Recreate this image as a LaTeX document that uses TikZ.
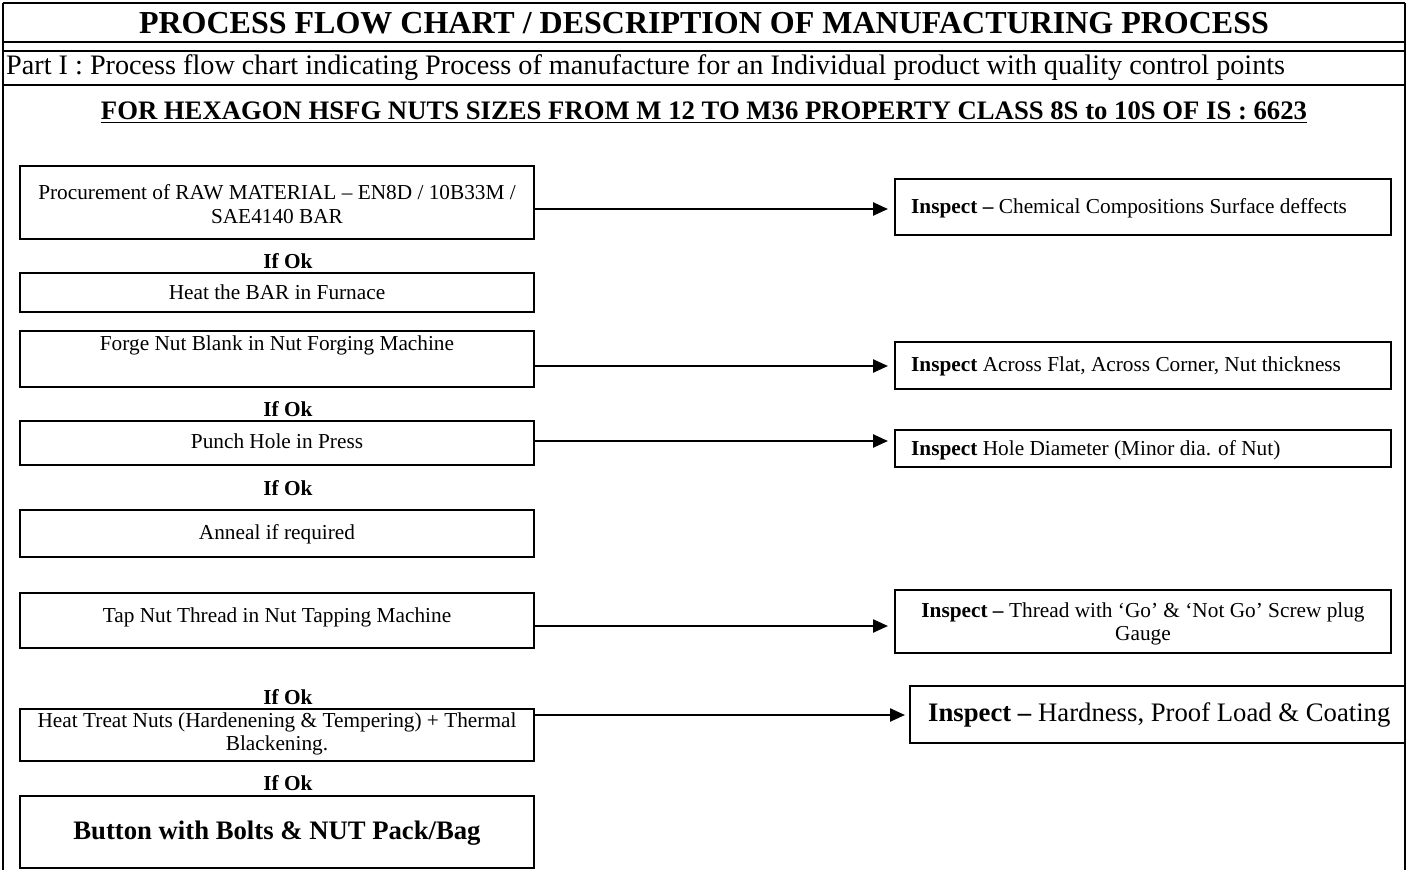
\documentclass[tikz,border=0pt]{standalone}
\usepackage{fontspec}
\setmainfont{Liberation Serif}
\usetikzlibrary{arrows.meta}
\newcommand\myfbody{\fontsize{21.3}{23.5}\selectfont}
\newcommand\myfbig{\fontsize{26.7}{30}\selectfont}
\newcommand\myftitle{\fontsize{32}{36}\selectfont}
\newcommand\myfsub{\fontsize{28.2}{32}\selectfont}
\begin{document}
\begin{tikzpicture}[x=1pt,y=-1pt,
  frame/.style={line width=2pt},
  box/.style={draw, line width=2pt, inner sep=0pt, outer sep=0pt, anchor=north west},
  txt/.style={inner sep=0pt, font=\myfbody, align=center},
  okl/.style={inner sep=0pt, font=\myfbody\bfseries},
  rtxt/.style={inner sep=0pt, font=\myfbody, anchor=west},
  arr/.style={line width=2.4pt, -{Triangle[length=15pt,width=13pt]}, shorten >=7pt},
]
\useasboundingbox (0,0) rectangle (1408,870);

% frame
\draw[frame] (3,3) -- (1405,3);
\draw[frame] (3,42) -- (1405,42);
\draw[frame] (3,51) -- (1405,51);
\draw[frame] (3,85) -- (1405,85);
\draw[frame] (3,3) -- (3,870);
\draw[frame] (1405,3) -- (1405,870);

% headings
\node[font=\myftitle\bfseries, inner sep=0pt] (title) at (704,23) {PROCESS FLOW CHART / DESCRIPTION OF MANUFACTURING PROCESS};
\node[font=\myfsub, inner sep=0pt, anchor=west] (sub) at (6,68) {Part I : Process flow chart indicating Process of manufacture for an Individual product with quality control points};
\node[font=\myfbig\bfseries, inner sep=0pt] (head) at (704,111) {FOR HEXAGON HSFG NUTS SIZES FROM M 12 TO M36 PROPERTY CLASS 8S to 10S OF IS : 6623};
\draw[line width=1.6pt] ([yshift=-3pt]head.base west) -- ([yshift=-3pt]head.base east);

% left boxes
\node[box, minimum width=514pt, minimum height=73pt] (p1) at (20,166) {};
\node[box, minimum width=514pt, minimum height=39pt] (p2) at (20,273) {};
\node[box, minimum width=514pt, minimum height=56pt] (p3) at (20,331) {};
\node[box, minimum width=514pt, minimum height=44pt] (p4) at (20,421) {};
\node[box, minimum width=514pt, minimum height=47pt] (p5) at (20,510) {};
\node[box, minimum width=514pt, minimum height=55pt] (p6) at (20,593) {};
\node[box, minimum width=514pt, minimum height=52pt] (p7) at (20,709) {};
\node[box, minimum width=514pt, minimum height=72pt] (p8) at (20,796) {};

\node[txt] (t1) at (277,204) {Procurement of RAW MATERIAL – EN8D / 10B33M /\\SAE4140 BAR};
\node[txt] (t2) at (277,292) {Heat the BAR in Furnace};
\node[txt] (t3) at (277,345) {Forge Nut Blank in Nut Forging Machine};
\node[txt] (t4) at (277,441) {Punch Hole in Press};
\node[txt] (t5) at (277,534) {Anneal if required};
\node[txt] (t6) at (277,617) {Tap Nut Thread in Nut Tapping Machine};
\node[txt] (t7) at (277,734) {Heat Treat Nuts (Hardenening \& Tempering) + Thermal\\Blackening.};
\node[inner sep=0pt, font=\myfbig\bfseries] (t8) at (277,833) {Button with Bolts \& NUT Pack/Bag};

\node[okl] (ok1) at (288,261) {If Ok};
\node[okl] (ok2) at (288,409) {If Ok};
\node[okl] (ok3) at (288,488) {If Ok};
\node[okl] (ok4) at (288,697) {If Ok};
\node[okl] (ok5) at (288,783) {If Ok};

% right boxes
\node[box, minimum width=496pt, minimum height=56pt] (i1) at (895,179) {};
\node[box, minimum width=496pt, minimum height=47pt] (i2) at (895,342) {};
\node[box, minimum width=496pt, minimum height=37pt] (i3) at (895,430) {};
\node[box, minimum width=496pt, minimum height=63pt] (i4) at (895,590) {};
\node[box, minimum width=495pt, minimum height=57pt] (i5) at (910,686) {};

\node[rtxt] (j1) at (911,208) {\textbf{Inspect –} Chemical Compositions Surface deffects};
\node[rtxt] (j2) at (911,366) {\textbf{Inspect} Across Flat, Across Corner, Nut thickness};
\node[rtxt] (j3) at (911,450) {\textbf{Inspect} Hole Diameter (Minor dia. of Nut)};
\node[txt] (j4) at (1143,624) {\textbf{Inspect –} Thread with ‘Go’ \& ‘Not Go’ Screw plug\\Gauge};
\node[inner sep=0pt, font=\myfbig, anchor=west] (j5) at (928,715) {\textbf{Inspect –} Hardness, Proof Load \& Coating};

% arrows
\draw[arr] (p1.east |- 0,209) -- (i1.west |- 0,209);
\draw[arr] (p3.east |- 0,366) -- (i2.west |- 0,366);
\draw[arr] (p4.east |- 0,441) -- (i3.west |- 0,441);
\draw[arr] (p6.east |- 0,626) -- (i4.west |- 0,626);
\draw[arr, shorten >=5pt] (p7.east |- 0,715) -- (i5.west |- 0,715);
\end{tikzpicture}
\end{document}
